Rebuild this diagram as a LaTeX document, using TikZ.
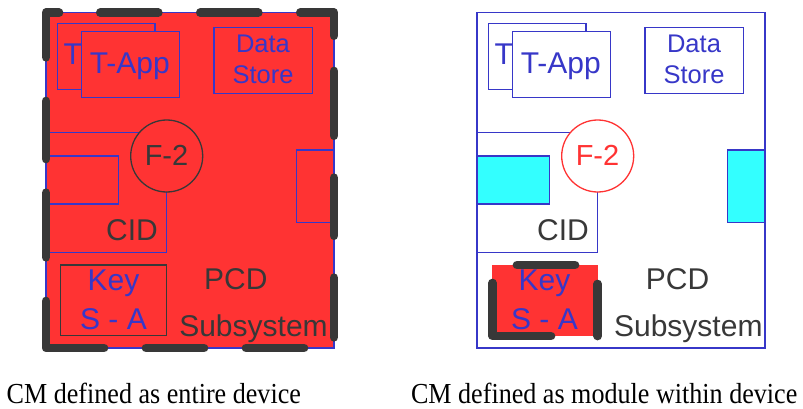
\documentclass[tikz,border=0pt]{standalone}
\usepackage{fontspec}
\newfontfamily\sansf{Liberation Sans}
\newfontfamily\capf[FakeStretch=0.9]{Liberation Serif}
\definecolor{pred}{HTML}{FF3333}
\definecolor{pblue}{HTML}{3737C8}
\definecolor{pcyan}{HTML}{33FFFF}
\definecolor{pgray}{HTML}{383838}
\tikzset{
  box/.style={draw=pblue, line width=1.3pt},
  graybox/.style={draw=pgray, line width=1.3pt},
  thickdash/.style={draw=pgray, line width=8.7pt, line cap=round, line join=round},
  lbl/.style={anchor=base, inner sep=0pt, font=\sansf\fontsize{30}{36}\selectfont},
  smalllbl/.style={anchor=base, inner sep=0pt, font=\sansf\fontsize{25.5}{30}\selectfont},
  fclbl/.style={anchor=base, inner sep=0pt, font=\sansf\fontsize{29}{34}\selectfont},
  caplbl/.style={anchor=base, inner sep=0pt, font=\capf\fontsize{29}{34}\selectfont},
}
\begin{document}
\begin{tikzpicture}[x=1pt,y=-1pt]
\useasboundingbox (0,0) rectangle (803,409);

% ================= LEFT PANEL =================
\draw[box, fill=pred] (46,12.7) rectangle (334,348);
\draw[box] (46,132.3) rectangle (166.7,252.3);
\draw[box] (46,156) rectangle (118.3,204);
\node[draw=pgray, fill=pred, line width=1.3pt, circle, minimum size=72pt, inner sep=0pt] (fL) at (166.7,156) {};
\node[fclbl, text=pgray] (f2L) at (166.5,165.7) {F-2};
\draw[box] (296.7,150) rectangle (334,222.7);
% T-App stack
\draw[box, fill=pred] (57.3,23.3) rectangle (155,89.3);
\node[lbl, anchor=base west, text=pblue] (tbackL) at (63.5,64.9) {T};
\draw[box, fill=pred] (81.7,31.7) rectangle (179.3,97.7);
\node[lbl, text=pblue] (tfrontL) at (129.8,73.3) {T-App};
% Data Store
\draw[box] (214,27.7) rectangle (312.7,93.3);
\node[smalllbl, text=pblue] (dataL) at (263,52.7) {Data};
\node[smalllbl, text=pblue] (storeL) at (263,83.3) {Store};
% CID
\node[lbl, text=pgray] (cidL) at (132,240.3) {CID};
% Key
\draw[graybox] (60.7,265) rectangle (166.7,335.7);
\node[lbl, text=pblue] (keyL) at (113.5,290) {Key};
\node[lbl, text=pblue] (saL) at (113.5,329.5) {S - A};
% PCD Subsystem
\node[lbl, text=pgray] (pcdL) at (235.8,289.3) {PCD};
\node[lbl, text=pgray] (subL) at (253.5,336) {Subsystem};
% thick dashed border
\draw[thickdash] (46,57.3) -- (46,12.7) -- (59,12.7);
\draw[thickdash] (100.3,12.7) -- (158.3,12.7);
\draw[thickdash] (200.3,12.7) -- (258.3,12.7);
\draw[thickdash] (300.3,12.7) -- (334,12.7) -- (334,35.7);
\draw[thickdash] (334,71) -- (334,135.7);
\draw[thickdash] (334,177.7) -- (334,235.7);
\draw[thickdash] (334,277.7) -- (334,337.3);
\draw[thickdash] (304,348) -- (246,348);
\draw[thickdash] (204,348) -- (146,348);
\draw[thickdash] (104,348) -- (46,348) -- (46,301);
\draw[thickdash] (46,257.3) -- (46,192.7);
\draw[thickdash] (46,159) -- (46,101);

% ================= RIGHT PANEL =================
\draw[box, fill=white] (477,12.7) rectangle (765,348);
\draw[box] (477,132.3) rectangle (597.7,252.3);
\draw[box, fill=pcyan] (477,156) rectangle (549.3,204);
\node[draw=pred, fill=white, line width=1.3pt, circle, minimum size=72pt, inner sep=0pt] (fR) at (597.7,156) {};
\node[fclbl, text=pred] (f2R) at (597.5,165.7) {F-2};
\draw[box, fill=pcyan] (727.7,150) rectangle (765,222.7);
% T-App stack
\draw[box, fill=white] (488.3,23.3) rectangle (586,89.3);
\node[lbl, anchor=base west, text=pblue] (tbackR) at (494.5,64.9) {T};
\draw[box, fill=white] (512.7,31.7) rectangle (610.3,97.7);
\node[lbl, text=pblue] (tfrontR) at (560.8,73.3) {T-App};
% Data Store
\draw[box] (645,27.7) rectangle (743.7,93.3);
\node[smalllbl, text=pblue] (dataR) at (694,52.7) {Data};
\node[smalllbl, text=pblue] (storeR) at (694,83.3) {Store};
% CID
\node[lbl, text=pgray] (cidR) at (563,240.3) {CID};
% Key (red, thick dashed)
\fill[pred] (491.7,265) rectangle (597.7,335.7);
\node[lbl, text=pblue] (keyR) at (544.5,290) {Key};
\node[lbl, text=pblue] (saR) at (544.5,329.5) {S - A};
\draw[thickdash] (517,265) -- (575,265);
\draw[thickdash] (492.5,283) -- (492.5,336) -- (551,336);
\draw[thickdash] (597.7,284) -- (597.7,336);
% PCD Subsystem
\node[lbl, text=pgray] (pcdR) at (677.5,289.3) {PCD};
\node[lbl, text=pgray] (subR) at (688.3,336) {Subsystem};

% ================= CAPTIONS =================
\node[caplbl] (capL) at (153.8,403.3) {CM defined as entire device};
\node[caplbl] (capR) at (604.2,403.3) {CM defined as module within device};
\end{tikzpicture}
\end{document}
